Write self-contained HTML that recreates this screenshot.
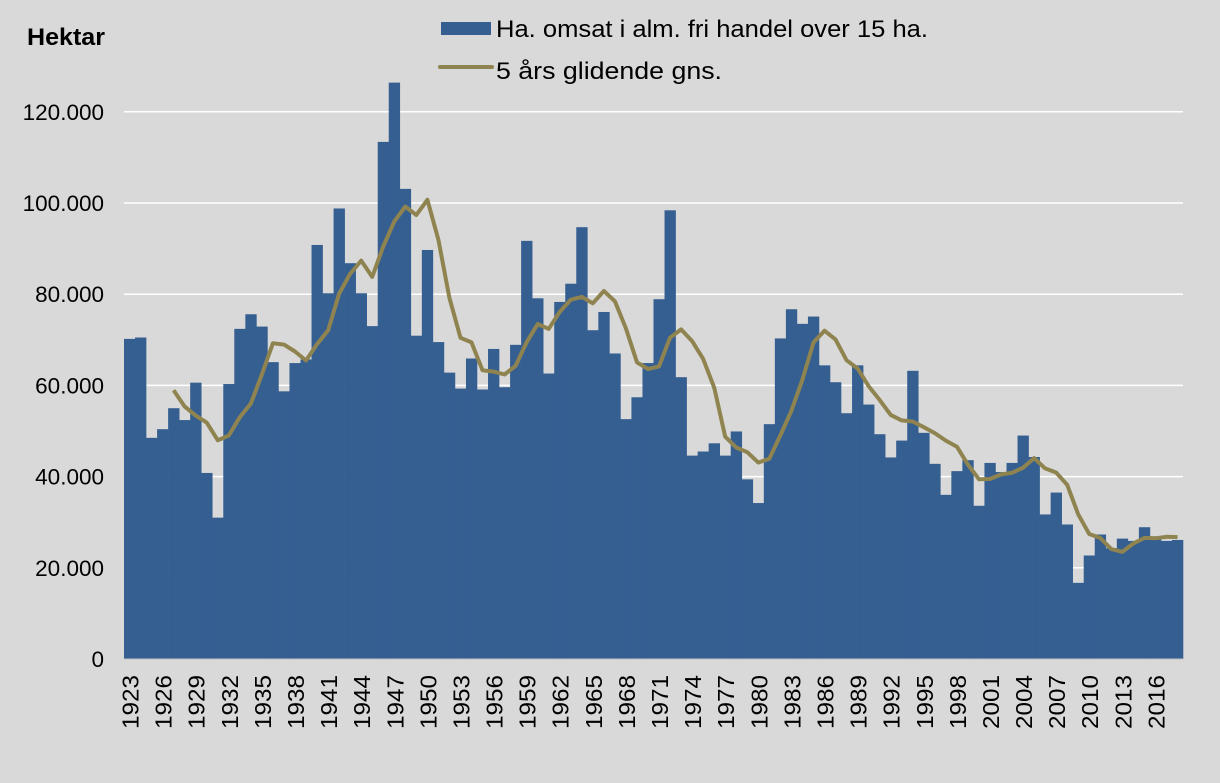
<!DOCTYPE html>
<html><head><meta charset="utf-8"><style>
html,body{margin:0;padding:0;background:#d9d9d9;}
svg{display:block;font-family:"Liberation Sans",Arial,sans-serif;}
</style></head><body>
<svg id="c" width="1220" height="783" viewBox="0 0 1220 783" xmlns="http://www.w3.org/2000/svg">
<rect width="1220" height="783" fill="#d9d9d9"/>
<text x="27" y="45" font-size="24" font-weight="bold" fill="#000" textLength="78" lengthAdjust="spacingAndGlyphs">Hektar</text>
<rect x="441" y="22" width="50" height="13" fill="#355f91"/>
<text x="496" y="37" font-size="24" fill="#000" textLength="432" lengthAdjust="spacingAndGlyphs">Ha. omsat i alm. fri handel over 15 ha.</text>
<line x1="440" y1="67" x2="492" y2="67" stroke="#8f8450" stroke-width="4" stroke-linecap="round"/>
<text x="496" y="79" font-size="24" fill="#000" textLength="226" lengthAdjust="spacingAndGlyphs">5 års glidende gns.</text>
<g id="g"></g>
</svg>
<script>
var v=[70.2,70.5,48.5,50.4,55.0,52.4,60.6,40.8,31.0,60.3,72.4,75.6,72.9,65.1,58.7,64.9,65.7,90.8,80.2,98.8,86.8,80.2,73.0,113.4,126.4,103.1,70.9,89.7,69.5,62.8,59.3,65.9,59.1,
68.0,59.6,68.9,91.7,79.1,62.6,78.3,82.3,94.7,72.1,76.1,67.0,52.6,57.4,64.9,78.9,98.4,61.8,44.6,45.5,47.3,44.6,49.9,39.4,34.2,51.5,70.3,76.7,73.5,75.1,64.4,
60.7,53.9,64.4,55.8,49.3,44.2,47.9,63.2,49.6,42.8,36.0,41.2,43.6,33.6,43.0,41.0,43.0,49.0,44.3,31.7,36.5,29.5,16.7,22.7,27.3,24.3,26.4,25.9,28.9,26.9,25.9,26.1];
var x0=124,x1=1183,y0=659,s=91.2/20,n=v.length,w=(x1-x0)/n,h='';
for(var k=0;k<=120;k+=20){var y=y0-k*s;
 if(k>0)h+='<line x1="'+x0+'" x2="'+x1+'" y1="'+y+'" y2="'+y+'" stroke="#fff" stroke-width="1.5"/>';
 h+='<text x="104" y="'+(y+8)+'" font-size="22.5" text-anchor="end">'+(k==0?'0':k+'.000')+'</text>';}
for(var i=0;i<n;i++){var hh=v[i]*s;
 h+='<rect x="'+(x0+i*w).toFixed(2)+'" y="'+(y0-hh).toFixed(2)+'" width="'+(w+0.3).toFixed(2)+'" height="'+hh.toFixed(2)+'" fill="#355f91"/>';}
var p=[];for(var i=4;i<n;i++){var a=0;for(var j=i-4;j<=i;j++)a+=v[j];a/=5;p.push((x0+(i+0.5)*w).toFixed(1)+','+(y0-a*s).toFixed(1));}
h+='<polyline points="'+p.join(' ')+'" fill="none" stroke="#8f8450" stroke-width="4" stroke-linejoin="round"/>';
h+='<line x1="'+x0+'" x2="'+x1+'" y1="'+y0+'" y2="'+y0+'" stroke="#bfbfbf" stroke-width="1"/>';
for(var i=0;i<n;i+=3){var cx=x0+(i+0.5)*w+9;
 h+='<text transform="translate('+cx.toFixed(1)+',675) rotate(-90)" font-size="23" text-anchor="end" textLength="54" lengthAdjust="spacingAndGlyphs">'+(1923+i)+'</text>';}
document.getElementById('g').innerHTML=h;
</script>
</body></html>
